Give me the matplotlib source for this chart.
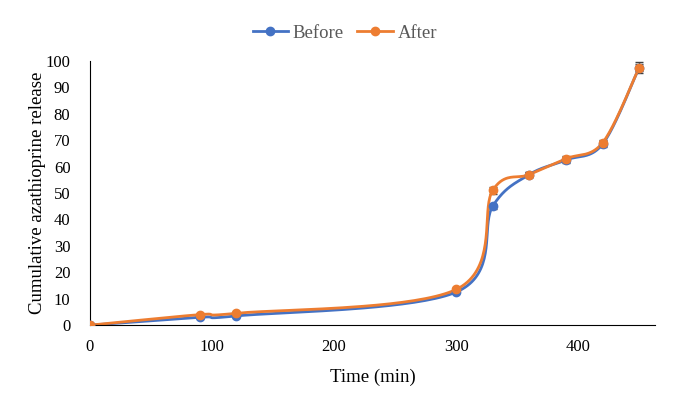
import numpy as np
import matplotlib.pyplot as plt

plt.rcParams['font.family'] = ['Liberation Serif', 'DejaVu Serif']

# datos
time = [0, 90, 120, 300, 330, 360, 390, 420, 450]
before = [0, 3.0, 3.5, 12.5, 45.0, 57.0, 62.5, 68.5, 97.5]
after = [0, 4.0, 4.5, 13.5, 51.0, 57.0, 63.0, 69.0, 97.5]
err_before = [0, 0.3, 0.3, 0.5, 1.0, 0.8, 1.0, 1.0, 2.0]
err_after = [0, 0.3, 0.3, 0.5, 1.2, 0.8, 1.0, 1.0, 1.5]

xmax, ymax = 463, 100
sx, sy = 565 / xmax, 264 / ymax  # pixeles por unidad, para suavizar como Excel


def suavizar(x, y, n=40):
    # curva tipo Catmull-Rom (parecida al "smoothed line" de Excel)
    p = np.column_stack([np.array(x) * sx, np.array(y) * sy])
    pts = []
    for i in range(len(p) - 1):
        p0 = p[max(i - 1, 0)]
        p1, p2 = p[i], p[i + 1]
        p3 = p[min(i + 2, len(p) - 1)]
        c1 = p1 + (p2 - p0) / 6
        c2 = p2 - (p3 - p1) / 6
        t = np.linspace(0, 1, n)[:, None]
        seg = (1 - t) ** 3 * p1 + 3 * (1 - t) ** 2 * t * c1 + 3 * (1 - t) * t ** 2 * c2 + t ** 3 * p2
        pts.append(seg)
    pts = np.vstack(pts)
    return pts[:, 0] / sx, pts[:, 1] / sy


fig = plt.figure(figsize=(6.76, 3.98), dpi=100)
ax = fig.add_axes([0.133, 0.183, 0.836, 0.664])

for y, e, c, lab in [(before, err_before, '#4472C4', 'Before'), (after, err_after, '#ED7D31', 'After')]:
    xs, ys = suavizar(time, y)
    ax.plot(xs, ys, color=c, lw=2, zorder=2)
    ax.errorbar(time, y, yerr=e, fmt='none', ecolor='#404040', elinewidth=0.8, capsize=3, zorder=1)
    ax.plot(time, y, 'o', color=c, ms=6, zorder=3)
    ax.plot([], [], '-o', color=c, lw=2, ms=6, label=lab)

ax.set_xlim(0, xmax)
ax.set_ylim(0, ymax)
ax.set_xticks([0, 100, 200, 300, 400])
ax.set_yticks(range(0, 101, 10))
ax.tick_params(length=0, labelsize=12, colors='black')
ax.tick_params(axis='x', pad=10)
ax.tick_params(axis='y', pad=14)
ax.spines['top'].set_visible(False)
ax.spines['right'].set_visible(False)
ax.set_xlabel('Time (min)', fontsize=13.5, labelpad=10)
ax.set_ylabel('Cumulative azathioprine release', fontsize=13.5, labelpad=0)

fig.legend(loc='upper center', bbox_to_anchor=(0.51, 0.98), ncol=2, frameon=False,
           fontsize=13.5, handlelength=1.9, handletextpad=0.25, columnspacing=0.7,
           labelcolor='#595959')

plt.savefig('out.png', dpi=100)
